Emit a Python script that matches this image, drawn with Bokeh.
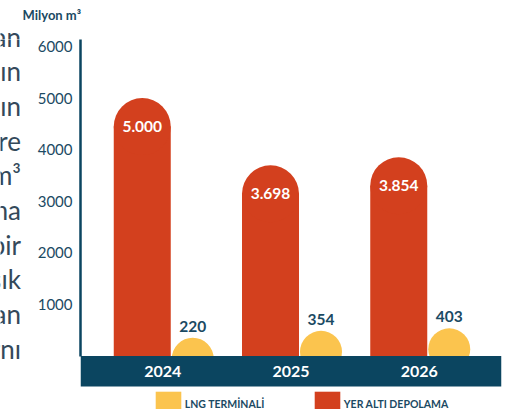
from bokeh.plotting import figure
from bokeh.layouts import column, row
from bokeh.models import (FactorRange, Range1d, ColumnDataSource, FixedTicker,
                          BoxAnnotation, LabelSet, Legend, LegendItem)
from bokeh.transform import dodge
from bokeh.core.properties import value
from bokeh.embed import file_html
from bokeh.resources import INLINE

# ---------------- data ----------------
years = ["2024", "2025", "2026"]
lng_values = [220, 354, 403]
underground_values = [5000, 3698, 3854]
lng_labels = ["220", "354", "403"]
underground_labels = ["5.000", "3.698", "3.854"]
y_ticks = [1000, 2000, 3000, 4000, 5000, 6000]
series_names = ["LNG TERMİNALİ", "YER ALTI DEPOLAMA"]
unit_label = "Milyon m³"
side_text = ["an", "ın", "ın", "re", "m³", "ma", "bir", "şık", "an", "rnı"]

# ---------------- style ----------------
RED = "#D3401E"
YELLOW = "#FBC44E"
NAVY = "#0B4560"
TEXT = "#1B4A63"
SIDE = "#34495A"
FONT = "Lato"

W, H = 512, 409
TOP_H = 39            # strip above the plot frame
SIDE_W = 22           # strip left of the main figure
AXIS_GAP = 58         # main figure border left of its frame
RIGHT = 11
MAIN_W = W - SIDE_W
MAIN_H = H - TOP_H
FRAME_W = MAIN_W - AXIS_GAP - RIGHT
FRAME_H = MAIN_H
Y_START, Y_END = -1035, 6136
PX_PER_Y = FRAME_H / (Y_END - Y_START)
GROUP_PX = 128.25
X_PAD = (FRAME_W / GROUP_PX - len(years)) / len(years)
BAND_BOTTOM = -30.4 / PX_PER_Y

RED_OFF = -20.5 / GROUP_PX
RED_W_PX = 57
RED_W = RED_W_PX / GROUP_PX
YEL_OFF = 30 / GROUP_PX
YEL_D_PX = 42
YEL_SHIFT_PX = 14

SIDE_X = 20.5
SIDE_FIRST_BASE = 36
SIDE_STEP = 34.67

source = ColumnDataSource(dict(
    year=years,
    lng=lng_values,
    under=underground_values,
    under_body=[v - (RED_W_PX / 2) / PX_PER_Y for v in underground_values],
    lng_center=[v - YEL_SHIFT_PX / PX_PER_Y for v in lng_values],
    lng_label=lng_labels,
    under_label=underground_labels,
))
side_source = ColumnDataSource(dict(
    text=side_text,
    x=[SIDE_X] * len(side_text),
    y=[SIDE_FIRST_BASE + i * SIDE_STEP for i in range(len(side_text))],
))


def blank(width, height, y0, y1, x1):
    f = figure(width=width, height=height, x_range=Range1d(0, x1),
               y_range=Range1d(y0, y1), min_border=0,
               x_axis_location=None, y_axis_location=None,
               output_backend="svg", toolbar_location=None)
    f.outline_line_color = None
    f.grid.grid_line_color = None
    f.text(x="x", y="y", text="text", source=side_source,
           text_font=value(FONT), text_font_size="26px", text_color=SIDE,
           text_align="right", text_baseline="alphabetic")
    return f


# strip on top (page y from 0 to TOP_H)
top_fig = blank(W, TOP_H, TOP_H, 0, W)
top_fig.text(x=[22], y=[14], text=[unit_label], text_font=value(FONT),
             text_font_style="bold", text_font_size="13px", text_color=TEXT,
             text_baseline="middle")
# strip on the left (page y from TOP_H to H)
side_fig = blank(SIDE_W, MAIN_H, H, TOP_H, SIDE_W)

p = figure(x_range=FactorRange(factors=years, range_padding=X_PAD),
           y_range=Range1d(Y_START, Y_END),
           width=MAIN_W, height=MAIN_H,
           min_border_left=AXIS_GAP, min_border_right=RIGHT,
           min_border_top=0, min_border_bottom=0,
           x_axis_location=None, output_backend="svg", toolbar_location=None)
p.outline_line_color = None
p.grid.grid_line_color = None
p.background_fill_color = "white"

# y axis
ax = p.yaxis[0]
ax.ticker = FixedTicker(ticks=y_ticks)
ax.bounds = (0, Y_END)
ax.axis_line_color = NAVY
ax.axis_line_width = 2.5
ax.major_tick_line_color = None
ax.minor_tick_line_color = None
ax.major_tick_out = 0
ax.major_tick_in = 0
ax.major_label_standoff = 8
ax.major_label_text_font = FONT
ax.major_label_text_font_size = "15px"
ax.major_label_text_color = TEXT

xr = p.x_range
# yellow circles
p.scatter(x=dodge("year", YEL_OFF, range=xr), y="lng_center", size=YEL_D_PX,
          marker="circle", fill_color=YELLOW, line_color=None, source=source)
# red rounded bars
red = p.vbar(x=dodge("year", RED_OFF, range=xr), top="under_body", bottom=0,
             width=RED_W, fill_color=RED, line_color=None, source=source)
p.scatter(x=dodge("year", RED_OFF, range=xr), y="under_body", size=RED_W_PX,
          marker="circle", fill_color=RED, line_color=None, source=source)

# value labels
p.text(x=dodge("year", RED_OFF, range=xr), y="under", text="under_label",
       y_offset=28, text_font=value(FONT), text_font_style="bold",
       text_font_size="15.5px", text_color="white", text_align="center",
       text_baseline="middle", source=source)
p.text(x=dodge("year", YEL_OFF, range=xr), y="lng", text="lng_label",
       y_offset=-18.5, text_font=value(FONT), text_font_style="bold",
       text_font_size="15.5px", text_color=TEXT, text_align="center",
       text_baseline="middle", source=source)

# band + years
band = BoxAnnotation(top=0, bottom=BAND_BOTTOM, fill_color=NAVY, fill_alpha=1,
                     line_color=None)
p.add_layout(band)
p.add_layout(LabelSet(x="year", y=BAND_BOTTOM / 2, text="year", source=source,
                      text_font=value(FONT), text_font_style="bold",
                      text_font_size="16px", text_color="white",
                      text_align="center", text_baseline="middle"))

# legend (a zero-height bar only gives the yellow legend swatch)
dummy_yellow = p.vbar(x=years[:1], top=[0], bottom=[0], width=0.0,
                      fill_color=YELLOW, line_color=None)
GLY = 32
for name, rend, lx in [(series_names[0], dummy_yellow, 71.8),
                       (series_names[1], red, 230.8)]:
    leg = Legend(items=[LegendItem(label=name, renderers=[rend])],
                 location=(lx, -10.8), glyph_width=GLY, glyph_height=GLY,
                 label_standoff=1, padding=0, margin=0, spacing=0,
                 border_line_color=None, background_fill_alpha=0,
                 label_text_font=FONT, label_text_font_style="bold",
                 label_text_font_size="10.5px", label_text_color=TEXT)
    p.add_layout(leg)

layout = column(top_fig, row(side_fig, p, spacing=0), spacing=0)
open("out.html", "w").write(file_html(layout, INLINE))
